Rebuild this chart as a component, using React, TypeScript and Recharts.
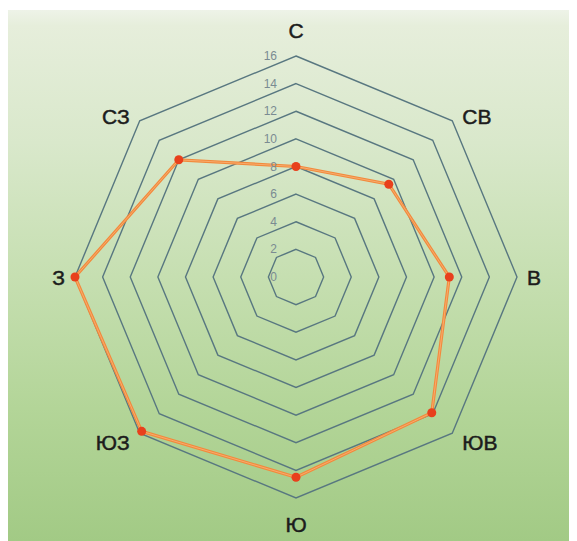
import React from "react";
import { PolarAngleAxis, PolarGrid, PolarRadiusAxis, Radar, RadarChart } from "recharts";

// направления ветра и повторяемость, %
const directions = ["С", "СВ", "В", "ЮВ", "Ю", "ЮЗ", "З", "СЗ"];
const frequency = [8, 9.5, 11.1, 13.9, 14.5, 15.8, 16, 12];
const radiusTicks = [0, 2, 4, 6, 8, 10, 12, 14, 16];

const data = directions.map((dir, i) => ({ dir, value: frequency[i] }));

const W = 569;
const H = 531;
const CX = 288;
const CY = 267;
const R = 221;

function AngleTick(props: any) {
  const { x, y, payload } = props;
  const a = Math.atan2(CY - y, x - CX);
  const cos = Math.cos(a);
  const sin = Math.sin(a);
  let tx = CX;
  let ty = CY;
  let anchor: "start" | "end" | "middle" = "middle";
  if (Math.abs(cos) < 0.01) {
    ty = sin > 0 ? CY - R - 26 : CY + R + 26;
  } else {
    anchor = cos > 0 ? "start" : "end";
    tx = CX + cos * R + (cos > 0 ? 10 : -10);
    ty = CY - sin * R;
    if (sin > 0.01) ty -= 4;
    if (sin < -0.01) ty += 9;
  }
  return (
    <text
      x={tx}
      y={ty}
      textAnchor={anchor}
      dominantBaseline="central"
      fontFamily="Liberation Sans, Arial, sans-serif"
      fontSize={21}
      fill="#1c1c1c"
      stroke="#1c1c1c"
      strokeWidth={0.5}
    >
      {payload.value}
    </text>
  );
}

function RadiusTick(props: any) {
  const { x, y, payload } = props;
  return (
    <text
      x={x - 19}
      y={y}
      textAnchor="end"
      dominantBaseline="central"
      fontFamily="Liberation Sans, Arial, sans-serif"
      fontSize={12}
      fill="#7a8b92"
    >
      {payload.value}
    </text>
  );
}

function Dot(props: any) {
  const { cx, cy, index } = props;
  return <circle key={index} cx={cx} cy={cy} r={4.5} fill="#e8401c" />;
}

export default function App() {
  return (
    <div style={{ paddingTop: 2 }}>
      <div
        style={{
          width: W,
          height: H,
          background:
            "linear-gradient(180deg, #eef3e8 0%, #e6eedb 3%, #d9e8cb 25%, #c6dfb1 50%, #b3d598 75%, #a2ca85 100%)",
        }}
      >
        <RadarChart width={W} height={H} cx={CX} cy={CY} outerRadius={R} data={data}>
          <PolarGrid
            gridType="polygon"
            radialLines={false}
            stroke="#587780"
            strokeWidth={1.4}
            polarRadius={radiusTicks.map((t) => (t / 16) * R)}
          />
          <PolarAngleAxis dataKey="dir" tick={<AngleTick />} tickLine={false} axisLine={false} />
          <PolarRadiusAxis
            angle={90}
            domain={[0, 16]}
            ticks={radiusTicks as any}
            tickCount={9}
            tick={<RadiusTick />}
            axisLine={false}
            tickLine={false}
          />
          <Radar
            dataKey="value"
            stroke="#f28a3c"
            strokeWidth={3.2}
            fill="none"
            fillOpacity={0}
            dot={false}
            isAnimationActive={false}
          />
          <Radar
            dataKey="value"
            stroke="#f9b47a"
            strokeWidth={0.8}
            fill="none"
            fillOpacity={0}
            dot={Dot}
            isAnimationActive={false}
          />
        </RadarChart>
      </div>
    </div>
  );
}
